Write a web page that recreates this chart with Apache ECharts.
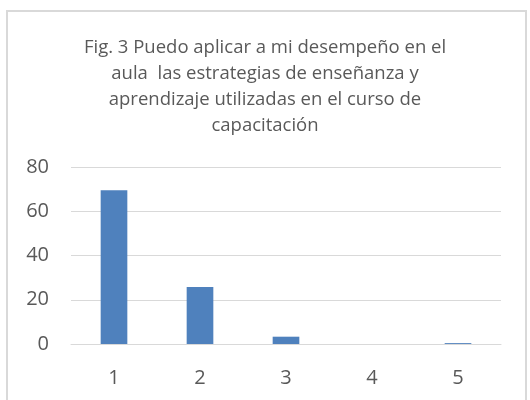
<!DOCTYPE html>
<html>
<head>
<meta charset="utf-8">
<script src="https://cdn.jsdelivr.net/npm/echarts@6/dist/echarts.min.js"></script>
<style>
  html, body { margin: 0; padding: 0; background: #fff; }
  #frame {
    position: absolute; left: 6px; top: 10px; width: 521px; height: 395px;
    border: 2px solid #d9d9d9; box-sizing: border-box;
  }
  #chart { position: absolute; left: 0; top: 0; width: 530px; height: 400px; }
</style>
</head>
<body>
<div id="frame"></div>
<div id="chart"></div>
<script>
const titleText = 'Fig. 3 Puedo aplicar a mi desempeño en el\naula  las estrategias de enseñanza y\naprendizaje utilizadas en el curso de\ncapacitación';
const categories = ['1', '2', '3', '4', '5'];
const values = [69.5, 25.8, 3.3, 0, 0.4];
const yTicks = [0, 20, 40, 60, 80];

const chart = echarts.init(document.getElementById('chart'));

chart.setOption({
  animation: false,
  title: {
    text: titleText,
    left: 'center',
    top: 30,
    textStyle: {
      fontFamily: 'Open Sans',
      fontSize: 18.5,
      fontWeight: 'normal',
      color: '#595959',
      lineHeight: 26,
      align: 'center'
    }
  },
  grid: { left: 71, right: 29, top: 167, bottom: 56 },
  xAxis: {
    type: 'category',
    data: categories,
    axisLine: { lineStyle: { color: '#d9d9d9', width: 1 } },
    axisTick: { show: false },
    axisLabel: { fontFamily: 'Open Sans', fontSize: 20, color: '#595959', margin: 24 }
  },
  yAxis: {
    type: 'value',
    min: yTicks[0],
    max: yTicks[yTicks.length - 1],
    interval: 20,
    axisLine: { show: false },
    axisTick: { show: false },
    splitLine: { lineStyle: { color: '#d9d9d9', width: 1 } },
    axisLabel: { fontFamily: 'Open Sans', fontSize: 20, color: '#595959', margin: 22 }
  },
  series: [{
    type: 'bar',
    data: values,
    barWidth: '31%',
    itemStyle: { color: '#4f81bd' }
  }]
});
</script>
</body>
</html>
